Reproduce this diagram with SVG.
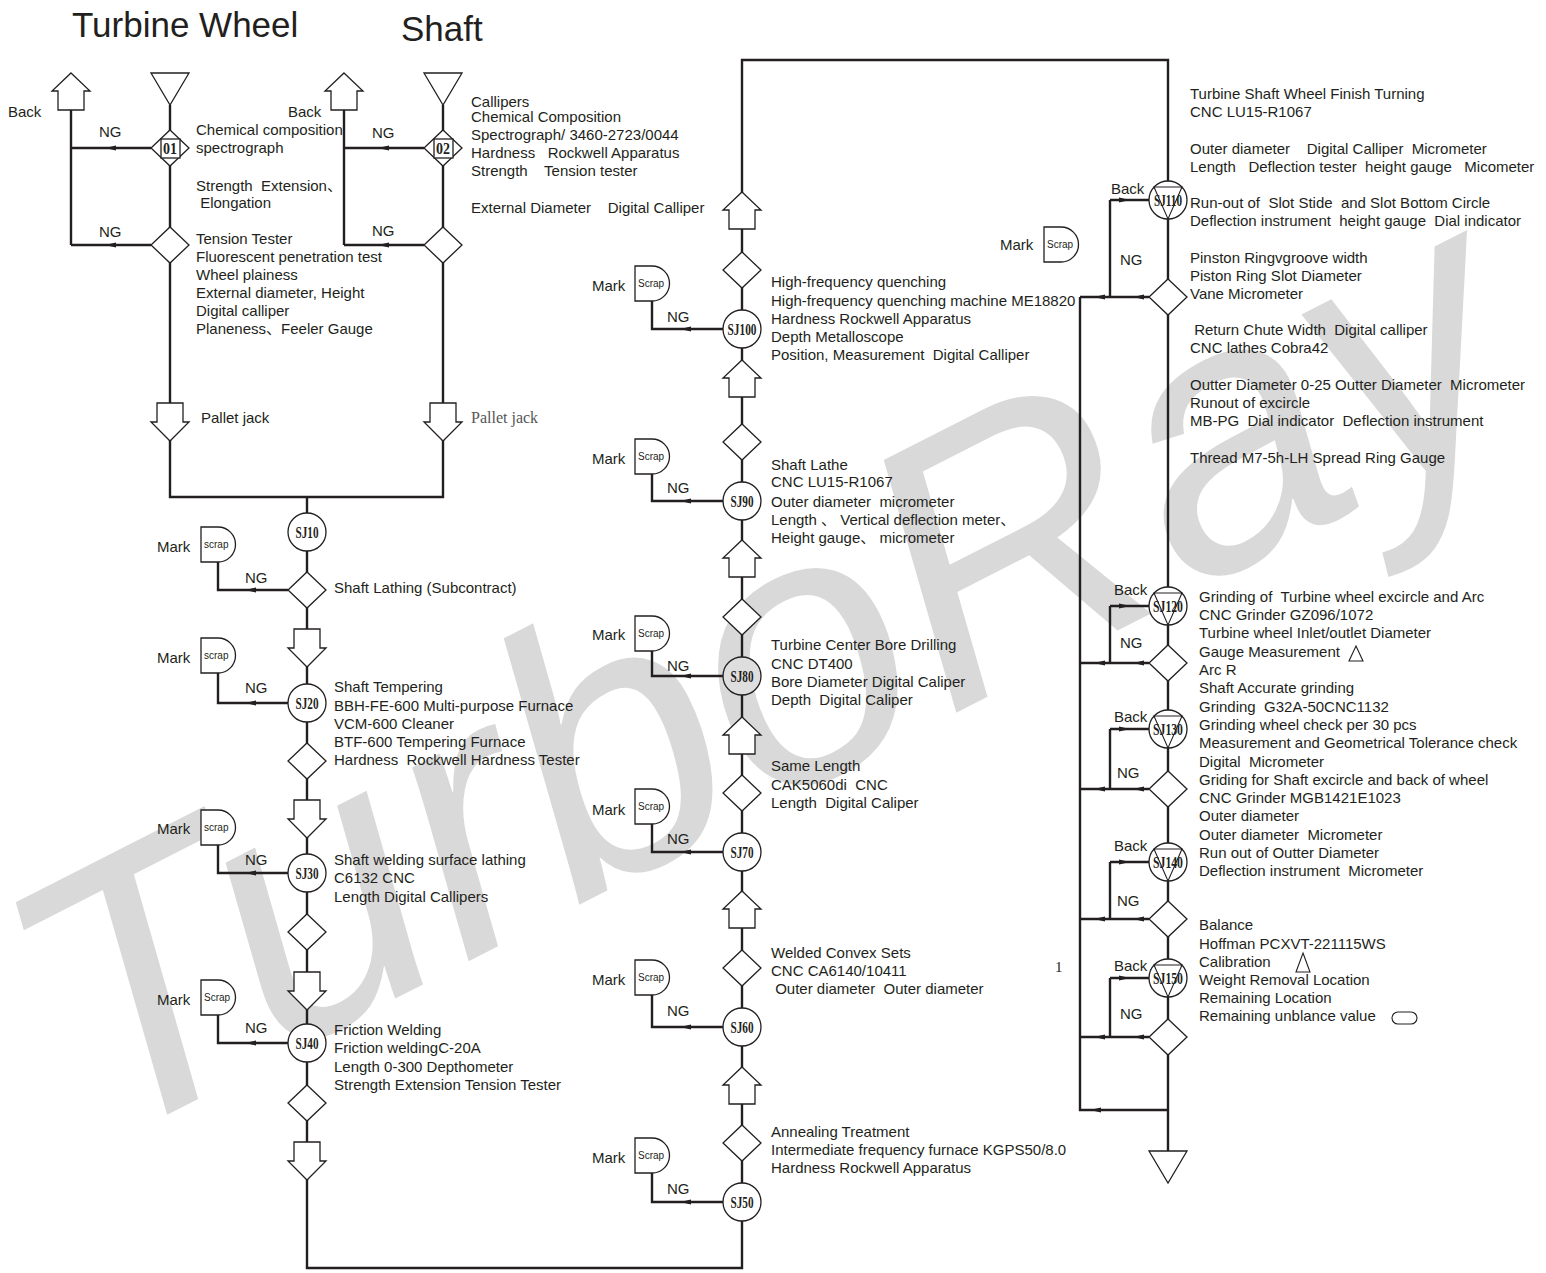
<svg xmlns="http://www.w3.org/2000/svg" xmlns:xlink="http://www.w3.org/1999/xlink" width="1546" height="1273" viewBox="0 0 1546 1273" xml:space="preserve">
<style>
.ln{fill:none;stroke:#231f20;stroke-width:2.4}
.sh{fill:#fff;stroke:#231f20;stroke-width:1.3}
.th{fill:none;stroke:#231f20;stroke-width:1.1}
.t{font-family:"Liberation Sans","Noto Sans CJK SC",Arial,sans-serif;font-size:15px;fill:#231f20;white-space:pre}
.sj{font-family:"Liberation Serif",serif;font-weight:bold;font-size:17px;fill:#231f20;text-anchor:middle}
.sc{font-family:"Liberation Sans",Arial,sans-serif;font-size:10px;fill:#231f20}
.ah{fill:#231f20}
.wm{font-family:"Liberation Sans",Arial,sans-serif;font-style:italic;font-size:375px;fill:#d9d9d9}
</style>
<defs>
<path id="dia" d="M0,-18 L19,0 L0,18 L-19,0 Z"/>
<path id="dn" d="M-13,0 H13 V19 H19 L0,38 L-19,19 H-13 Z"/>
<path id="up" d="M0,0 L19,18 H13 V37 H-13 V18 H-19 Z"/>
<path id="tri" d="M-19,0 H19 L0,32 Z"/>
<path id="scr" d="M0,0 H17 A17.5,17.5 0 0 1 17,35 H0 Z"/>
<path id="aL" d="M0,0 L11,-2.6 L11,2.6 Z"/>
<path id="aR" d="M0,0 L-11,-2.6 L-11,2.6 Z"/>
</defs>
<rect width="1546" height="1273" fill="#fff"/>
<text class="wm" transform="translate(98,1150) rotate(-27)">TurboRay</text>

<g id="titles">
<text class="t" x="72" y="37" style="font-size:35px">Turbine Wheel</text>
<text class="t" x="401" y="41" style="font-size:35px">Shaft</text>
</g>

<g id="connectors">
<path class="ln" d="M170,105 V497 H443 V105 M307,497 V1268 H742 V60 H1168 V1151"/>
<path class="ln" d="M71,110 V245 M71,148 H151 M71,245 H151 M344,110 V245 M344,148 H424 M344,245 H424"/>
<path class="ln" d="M218,562 V590 H288 M218,673 V703 H288 M218,845 V873 H288 M218,1015 V1043 H288"/>
<path class="ln" d="M652,301 V329 H723 M652,474 V501 H723 M652,651 V676 H723 M652,824 V852 H723 M652,995 V1027 H723 M652,1173 V1202 H723"/>
<path class="ln" d="M1080,297 V1110 H1168 M1110,200 V297 M1110,200 H1149 M1080,297 H1149 M1110,606 V663 H1149 M1110,606 H1149 M1080,663 H1110 M1110,729 V789 H1149 M1110,729 H1149 M1080,789 H1110 M1110,862 V919 H1149 M1110,862 H1149 M1080,919 H1110 M1110,978 V1037 H1149 M1110,978 H1149 M1080,1037 H1110"/>
<g class="ah">
<use href="#aL" x="105" y="148"/><use href="#aL" x="105" y="245"/>
<use href="#aL" x="378" y="148"/><use href="#aL" x="378" y="245"/>
<use href="#aL" x="245" y="590"/><use href="#aL" x="245" y="703"/><use href="#aL" x="245" y="873"/><use href="#aL" x="245" y="1043"/>
<use href="#aL" x="680" y="329"/><use href="#aL" x="680" y="501"/><use href="#aL" x="680" y="676"/><use href="#aL" x="680" y="852"/><use href="#aL" x="680" y="1027"/><use href="#aL" x="680" y="1202"/>
<use href="#aR" x="1130" y="200"/><use href="#aL" x="1133" y="297"/><use href="#aL" x="1094" y="297"/>
<use href="#aR" x="1130" y="606"/><use href="#aL" x="1133" y="663"/><use href="#aL" x="1094" y="663"/>
<use href="#aR" x="1130" y="729"/><use href="#aL" x="1133" y="789"/><use href="#aL" x="1094" y="789"/>
<use href="#aR" x="1130" y="862"/><use href="#aL" x="1133" y="919"/><use href="#aL" x="1094" y="919"/>
<use href="#aR" x="1130" y="978"/><use href="#aL" x="1133" y="1037"/><use href="#aL" x="1094" y="1037"/>
<use href="#aL" x="1090" y="1110"/>
</g>
</g>

<g id="turbine-wheel">
<use class="sh" href="#tri" x="170" y="73"/>
<use class="sh" href="#up" x="71" y="73"/>
<text class="t" x="8" y="117">Back</text>
<g id="d01"><use class="sh" href="#dia" x="170" y="148"/><rect class="sh" x="161" y="139" width="19" height="19"/><text class="sj" x="170" y="154" textLength="14" lengthAdjust="spacingAndGlyphs">01</text></g>
<use class="sh" href="#dia" x="170" y="245"/>
<text class="t" x="99" y="137">NG</text>
<text class="t" x="99" y="237">NG</text>
<text class="t" x="196" y="135">Chemical composition</text>
<text class="t" x="196" y="153">spectrograph</text>
<text class="t" x="196" y="191">Strength  Extension、</text>
<text class="t" x="196" y="208"> Elongation</text>
<text class="t" x="196" y="244">Tension Tester</text>
<text class="t" x="196" y="262">Fluorescent penetration test</text>
<text class="t" x="196" y="280">Wheel plainess</text>
<text class="t" x="196" y="298">External diameter, Height</text>
<text class="t" x="196" y="316">Digital calliper</text>
<text class="t" x="196" y="334">Planeness、Feeler Gauge</text>
<use class="sh" href="#dn" x="170" y="403"/>
<text class="t" x="201" y="423">Pallet jack</text>
</g>

<g id="shaft">
<use class="sh" href="#tri" x="443" y="73"/>
<use class="sh" href="#up" x="344" y="73"/>
<text class="t" x="288" y="117">Back</text>
<g id="d02"><use class="sh" href="#dia" x="443" y="148"/><rect class="sh" x="434" y="139" width="19" height="19"/><text class="sj" x="443" y="154" textLength="14" lengthAdjust="spacingAndGlyphs">02</text></g>
<use class="sh" href="#dia" x="443" y="245"/>
<text class="t" x="372" y="138">NG</text>
<text class="t" x="372" y="236">NG</text>
<text class="t" x="471" y="107">Callipers</text>
<text class="t" x="471" y="122">Chemical Composition</text>
<text class="t" x="471" y="140">Spectrograph/ 3460-2723/0044</text>
<text class="t" x="471" y="158">Hardness   Rockwell Apparatus</text>
<text class="t" x="471" y="176">Strength    Tension tester</text>
<text class="t" x="471" y="213">External Diameter    Digital Calliper</text>
<use class="sh" href="#dn" x="443" y="403"/>
<text x="471" y="423" style="font-family:'Liberation Serif',serif;font-size:16px;fill:#555">Pallet jack</text>
</g>

<g id="sj10">
<circle class="sh" cx="307" cy="532" r="19"/><text class="sj" x="307" y="538" textLength="23" lengthAdjust="spacingAndGlyphs">SJ10</text>
<use class="sh" href="#scr" x="201" y="527"/><text class="sc" x="204" y="548">scrap</text>
<text class="t" x="157" y="552">Mark</text><text class="t" x="245" y="583">NG</text>
<use class="sh" href="#dia" x="307" y="590"/>
<text class="t" x="334" y="593">Shaft Lathing (Subcontract)</text>
<use class="sh" href="#dn" x="307" y="629"/>
</g>

<g id="sj20">
<circle class="sh" cx="307" cy="703" r="19"/><text class="sj" x="307" y="709" textLength="23" lengthAdjust="spacingAndGlyphs">SJ20</text>
<use class="sh" href="#scr" x="201" y="638"/><text class="sc" x="204" y="659">scrap</text>
<text class="t" x="157" y="663">Mark</text><text class="t" x="245" y="693">NG</text>
<use class="sh" href="#dia" x="307" y="761"/>
<text class="t" x="334" y="692">Shaft Tempering</text>
<text class="t" x="334" y="711">BBH-FE-600 Multi-purpose Furnace</text>
<text class="t" x="334" y="729">VCM-600 Cleaner</text>
<text class="t" x="334" y="747">BTF-600 Tempering Furnace</text>
<text class="t" x="334" y="765">Hardness  Rockwell Hardness Tester</text>
<use class="sh" href="#dn" x="307" y="800"/>
</g>

<g id="sj30">
<circle class="sh" cx="307" cy="873" r="19"/><text class="sj" x="307" y="879" textLength="23" lengthAdjust="spacingAndGlyphs">SJ30</text>
<use class="sh" href="#scr" x="201" y="810"/><text class="sc" x="204" y="831">scrap</text>
<text class="t" x="157" y="834">Mark</text><text class="t" x="245" y="865">NG</text>
<use class="sh" href="#dia" x="307" y="932"/>
<text class="t" x="334" y="865">Shaft welding surface lathing</text>
<text class="t" x="334" y="883">C6132 CNC</text>
<text class="t" x="334" y="902">Length Digital Callipers</text>
<use class="sh" href="#dn" x="307" y="972"/>
</g>

<g id="sj40">
<circle class="sh" cx="307" cy="1043" r="19"/><text class="sj" x="307" y="1049" textLength="23" lengthAdjust="spacingAndGlyphs">SJ40</text>
<use class="sh" href="#scr" x="201" y="980"/><text class="sc" x="204" y="1001">Scrap</text>
<text class="t" x="157" y="1005">Mark</text><text class="t" x="245" y="1033">NG</text>
<use class="sh" href="#dia" x="307" y="1103"/>
<text class="t" x="334" y="1035">Friction Welding</text>
<text class="t" x="334" y="1053">Friction weldingC-20A</text>
<text class="t" x="334" y="1072">Length 0-300 Depthometer</text>
<text class="t" x="334" y="1090">Strength Extension Tension Tester</text>
<use class="sh" href="#dn" x="307" y="1142"/>
</g>

<g id="sj50">
<circle class="sh" cx="742" cy="1202" r="19"/><text class="sj" x="742" y="1208" textLength="23" lengthAdjust="spacingAndGlyphs">SJ50</text>
<use class="sh" href="#scr" x="635" y="1138"/><text class="sc" x="638" y="1159">Scrap</text>
<text class="t" x="592" y="1163">Mark</text><text class="t" x="667" y="1194">NG</text>
<use class="sh" href="#dia" x="742" y="1143"/>
<text class="t" x="771" y="1137">Annealing Treatment</text>
<text class="t" x="771" y="1155">Intermediate frequency furnace KGPS50/8.0</text>
<text class="t" x="771" y="1173">Hardness Rockwell Apparatus</text>
<use class="sh" href="#up" x="742" y="1067"/>
</g>

<g id="sj60">
<circle class="sh" cx="742" cy="1027" r="19"/><text class="sj" x="742" y="1033" textLength="23" lengthAdjust="spacingAndGlyphs">SJ60</text>
<use class="sh" href="#scr" x="635" y="960"/><text class="sc" x="638" y="981">Scrap</text>
<text class="t" x="592" y="985">Mark</text><text class="t" x="667" y="1016">NG</text>
<use class="sh" href="#dia" x="742" y="968"/>
<text class="t" x="771" y="958">Welded Convex Sets</text>
<text class="t" x="771" y="976">CNC CA6140/10411</text>
<text class="t" x="771" y="994"> Outer diameter  Outer diameter</text>
<use class="sh" href="#up" x="742" y="891"/>
</g>

<g id="sj70">
<circle class="sh" cx="742" cy="852" r="19"/><text class="sj" x="742" y="858" textLength="23" lengthAdjust="spacingAndGlyphs">SJ70</text>
<use class="sh" href="#scr" x="635" y="789"/><text class="sc" x="638" y="810">Scrap</text>
<text class="t" x="592" y="815">Mark</text><text class="t" x="667" y="844">NG</text>
<use class="sh" href="#dia" x="742" y="793"/>
<text class="t" x="771" y="771">Same Length</text>
<text class="t" x="771" y="790">CAK5060di  CNC</text>
<text class="t" x="771" y="808">Length  Digital Caliper</text>
<use class="sh" href="#up" x="742" y="717"/>
</g>

<g id="sj80">
<circle cx="742" cy="676" r="19" fill="#dedede" stroke="#231f20" stroke-width="1.3"/>
<text class="sj" x="742" y="682" textLength="23" lengthAdjust="spacingAndGlyphs">SJ80</text>
<use class="sh" href="#scr" x="635" y="616"/><text class="sc" x="638" y="637">Scrap</text>
<text class="t" x="592" y="640">Mark</text><text class="t" x="667" y="671">NG</text>
<use class="sh" href="#dia" x="742" y="617"/>
<text class="t" x="771" y="650">Turbine Center Bore Drilling</text>
<text class="t" x="771" y="669">CNC DT400</text>
<text class="t" x="771" y="687">Bore Diameter Digital Caliper</text>
<text class="t" x="771" y="705">Depth  Digital Caliper</text>
<use class="sh" href="#up" x="742" y="540"/>
</g>

<g id="sj90">
<circle class="sh" cx="742" cy="501" r="19"/><text class="sj" x="742" y="507" textLength="23" lengthAdjust="spacingAndGlyphs">SJ90</text>
<use class="sh" href="#scr" x="635" y="439"/><text class="sc" x="638" y="460">Scrap</text>
<text class="t" x="592" y="464">Mark</text><text class="t" x="667" y="493">NG</text>
<use class="sh" href="#dia" x="742" y="442"/>
<text class="t" x="771" y="470">Shaft Lathe</text>
<text class="t" x="771" y="487">CNC LU15-R1067</text>
<text class="t" x="771" y="507">Outer diameter  micrometer</text>
<text class="t" x="771" y="525">Length 、 Vertical deflection meter、</text>
<text class="t" x="771" y="543">Height gauge、 micrometer</text>
<use class="sh" href="#up" x="742" y="360"/>
</g>

<g id="sj100">
<circle class="sh" cx="742" cy="329" r="19"/><text class="sj" x="742" y="335" textLength="29" lengthAdjust="spacingAndGlyphs">SJ100</text>
<use class="sh" href="#scr" x="635" y="266"/><text class="sc" x="638" y="287">Scrap</text>
<text class="t" x="592" y="291">Mark</text><text class="t" x="667" y="322">NG</text>
<use class="sh" href="#dia" x="742" y="270"/>
<text class="t" x="771" y="287">High-frequency quenching</text>
<text class="t" x="771" y="306">High-frequency quenching machine ME18820</text>
<text class="t" x="771" y="324">Hardness Rockwell Apparatus</text>
<text class="t" x="771" y="342">Depth Metalloscope</text>
<text class="t" x="771" y="360">Position, Measurement  Digital Calliper</text>
<use class="sh" href="#up" x="742" y="192"/>
</g>

<g id="sj110">
<circle class="sh" cx="1168" cy="200" r="19"/><path class="th" d="M1154,187 H1182 L1168,219 Z"/>
<text class="sj" x="1168" y="206" textLength="28" lengthAdjust="spacingAndGlyphs">SJ110</text>
<text class="t" x="1111" y="194">Back</text><text class="t" x="1120" y="265">NG</text>
<use class="sh" href="#dia" x="1168" y="297"/>
<text class="t" x="1000" y="250">Mark</text>
<use class="sh" href="#scr" x="1044" y="227"/><text class="sc" x="1047" y="248">Scrap</text>
<text class="t" x="1190" y="99">Turbine Shaft Wheel Finish Turning</text>
<text class="t" x="1190" y="117">CNC LU15-R1067</text>
<text class="t" x="1190" y="154">Outer diameter    Digital Calliper  Micrometer</text>
<text class="t" x="1190" y="172">Length   Deflection tester  height gauge   Micometer</text>
<text class="t" x="1190" y="208">Run-out of  Slot Stide  and Slot Bottom Circle</text>
<text class="t" x="1190" y="226">Deflection instrument  height gauge  Dial indicator</text>
<text class="t" x="1190" y="263">Pinston Ringvgroove width</text>
<text class="t" x="1190" y="281">Piston Ring Slot Diameter</text>
<text class="t" x="1190" y="299">Vane Micrometer</text>
<text class="t" x="1190" y="335"> Return Chute Width  Digital calliper</text>
<text class="t" x="1190" y="353">CNC lathes Cobra42</text>
<text class="t" x="1190" y="390">Outter Diameter 0-25 Outter Diameter  Micrometer</text>
<text class="t" x="1190" y="408">Runout of excircle</text>
<text class="t" x="1190" y="426">MB-PG  Dial indicator  Deflection instrument</text>
<text class="t" x="1190" y="463">Thread M7-5h-LH Spread Ring Gauge</text>
</g>

<g id="sj120">
<circle class="sh" cx="1168" cy="606" r="19"/><path class="th" d="M1154,593 H1182 L1168,625 Z"/>
<text class="sj" x="1168" y="612" textLength="30" lengthAdjust="spacingAndGlyphs">SJ120</text>
<text class="t" x="1114" y="595">Back</text><text class="t" x="1120" y="648">NG</text>
<use class="sh" href="#dia" x="1168" y="663"/>
<text class="t" x="1199" y="602">Grinding of  Turbine wheel excircle and Arc</text>
<text class="t" x="1199" y="620">CNC Grinder GZ096/1072</text>
<text class="t" x="1199" y="638">Turbine wheel Inlet/outlet Diameter</text>
<text class="t" x="1199" y="657">Gauge Measurement</text>
<polygon class="th" points="1356,646 1363,661 1349,661"/>
<text class="t" x="1199" y="675">Arc R</text>
<text class="t" x="1199" y="693">Shaft Accurate grinding</text>
</g>

<g id="sj130">
<circle class="sh" cx="1168" cy="729" r="19"/><path class="th" d="M1154,716 H1182 L1168,748 Z"/>
<text class="sj" x="1168" y="735" textLength="30" lengthAdjust="spacingAndGlyphs">SJ130</text>
<text class="t" x="1114" y="722">Back</text><text class="t" x="1117" y="778">NG</text>
<use class="sh" href="#dia" x="1168" y="789"/>
<text class="t" x="1199" y="712">Grinding  G32A-50CNC1132</text>
<text class="t" x="1199" y="730">Grinding wheel check per 30 pcs</text>
<text class="t" x="1199" y="748">Measurement and Geometrical Tolerance check</text>
<text class="t" x="1199" y="767">Digital  Micrometer</text>
<text class="t" x="1199" y="785">Griding for Shaft excircle and back of wheel</text>
<text class="t" x="1199" y="803">CNC Grinder MGB1421E1023</text>
<text class="t" x="1199" y="821">Outer diameter</text>
</g>

<g id="sj140">
<circle class="sh" cx="1168" cy="862" r="19"/><path class="th" d="M1154,849 H1182 L1168,881 Z"/>
<text class="sj" x="1168" y="868" textLength="30" lengthAdjust="spacingAndGlyphs">SJ140</text>
<text class="t" x="1114" y="851">Back</text><text class="t" x="1117" y="906">NG</text>
<use class="sh" href="#dia" x="1168" y="919"/>
<text class="t" x="1199" y="840">Outer diameter  Micrometer</text>
<text class="t" x="1199" y="858">Run out of Outter Diameter</text>
<text class="t" x="1199" y="876">Deflection instrument  Micrometer</text>
</g>

<g id="sj150">
<circle class="sh" cx="1168" cy="978" r="19"/><path class="th" d="M1154,965 H1182 L1168,997 Z"/>
<text class="sj" x="1168" y="984" textLength="30" lengthAdjust="spacingAndGlyphs">SJ150</text>
<text class="t" x="1114" y="971">Back</text><text class="t" x="1120" y="1019">NG</text>
<use class="sh" href="#dia" x="1168" y="1037"/>
<text class="t" x="1199" y="930">Balance</text>
<text class="t" x="1199" y="949">Hoffman PCXVT-221115WS</text>
<text class="t" x="1199" y="967">Calibration</text>
<polygon class="th" points="1303,953 1310,972 1296,972"/>
<text class="t" x="1199" y="985">Weight Removal Location</text>
<text class="t" x="1199" y="1003">Remaining Location</text>
<text class="t" x="1199" y="1021">Remaining unblance value</text>
<rect class="th" x="1392" y="1012" width="25" height="12" rx="6"/>
<use class="sh" href="#tri" x="1168" y="1151"/>
<text x="1055" y="972" style="font-family:'Liberation Serif',serif;font-size:15px;fill:#231f20">1</text>
</g>
</svg>
